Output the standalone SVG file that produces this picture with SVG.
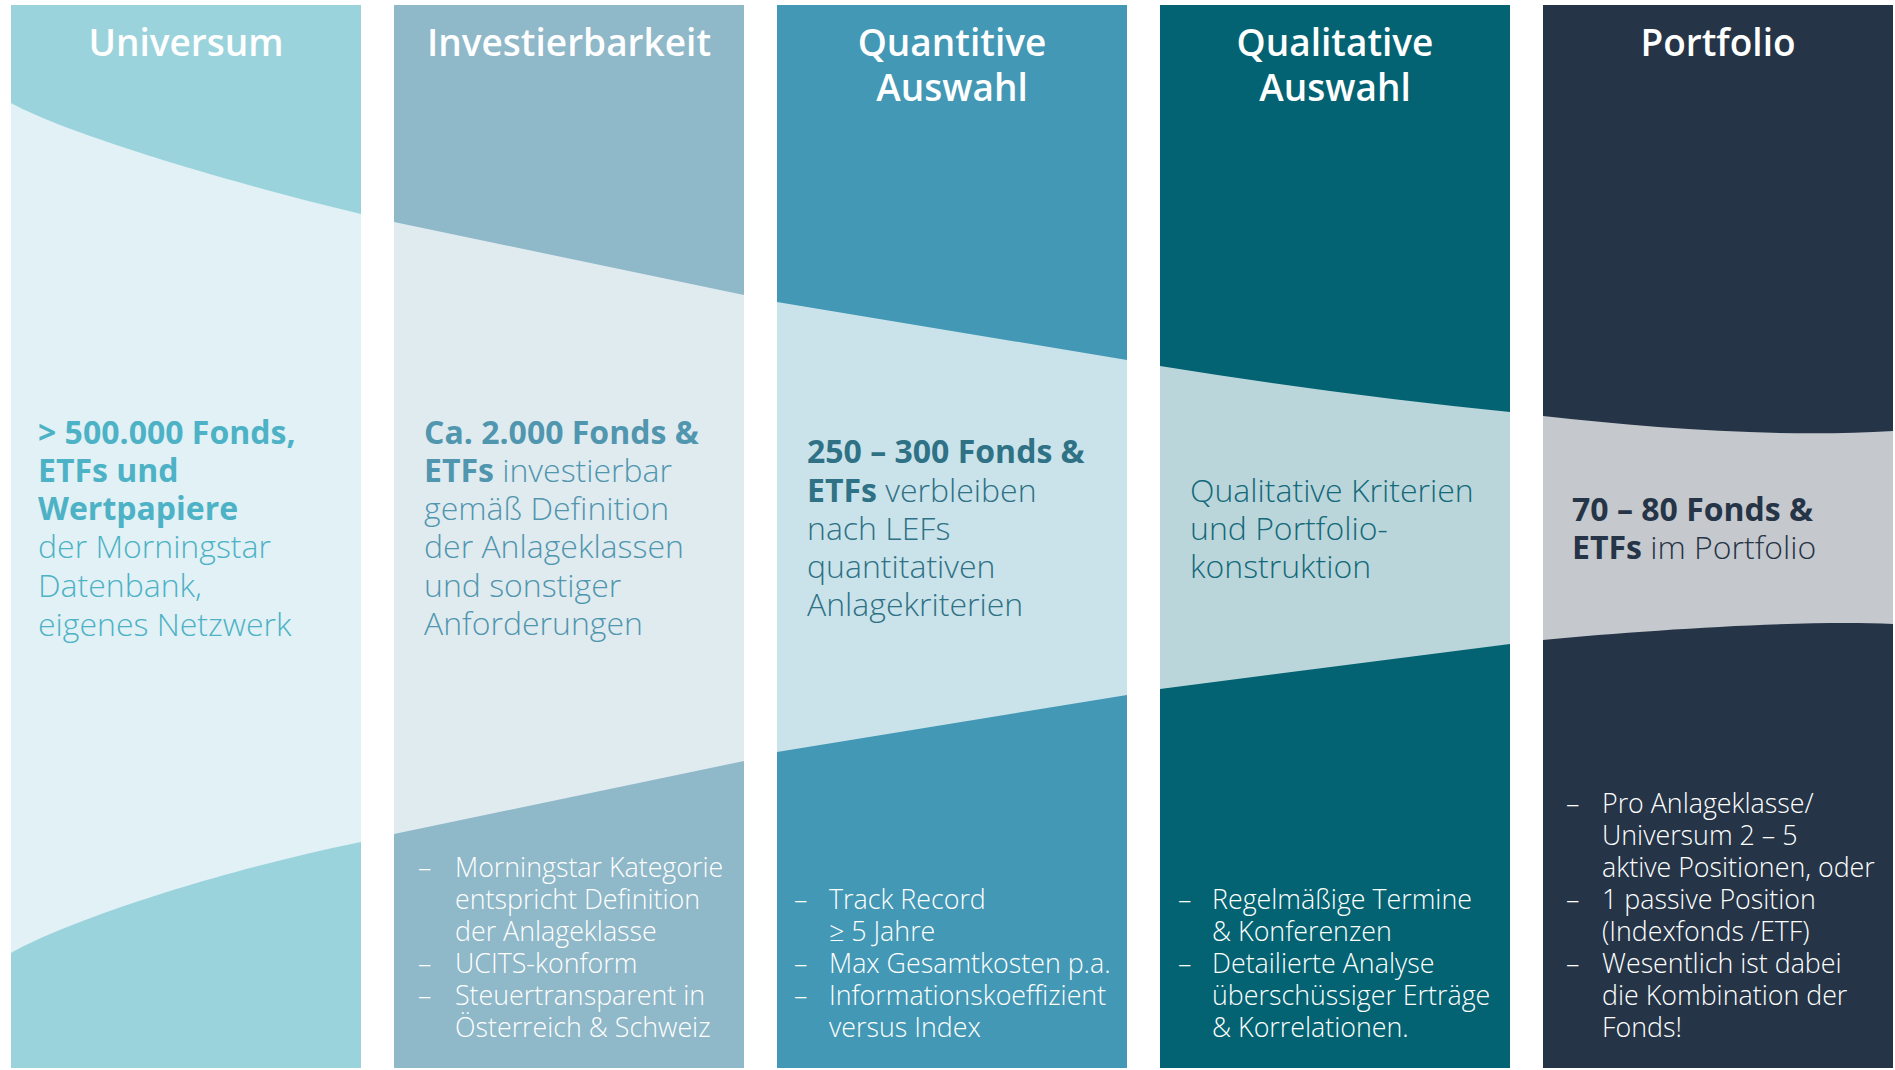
<svg xmlns="http://www.w3.org/2000/svg" width="1895" height="1070" viewBox="0 0 1895 1070">
<style>
.h{font-family:"Open Sans","Noto Sans",sans-serif;font-weight:600;font-size:37px;fill:#ffffff;text-anchor:middle}
.b{font-family:"Open Sans","Noto Sans",sans-serif;font-weight:300;font-size:32px}
.b tspan.s{font-weight:700}
.l{font-family:"Open Sans","Noto Sans",sans-serif;font-weight:300;font-size:26.8px;fill:#ffffff}
</style>
<rect width="1895" height="1070" fill="#ffffff"/>
<g id="col-universum">
<rect x="11" y="5" width="350" height="1063" fill="#9bd3dc"/>
<path d="M11,103 C60,130 200,175 361,214 L361,842 C200,875 60,925 11,953 Z" fill="#e1f1f5"/>
<text class="h" x="186" y="56">Universum</text>
<text class="b" fill="#4db2c5"><tspan class="s" x="38" y="444">&gt; 500.000 Fonds,</tspan><tspan class="s" x="38" y="482">ETFs und</tspan><tspan class="s" x="38" y="520">Wertpapiere</tspan><tspan x="38" y="558">der Morningstar</tspan><tspan x="38" y="597">Datenbank,</tspan><tspan x="38" y="636">eigenes Netzwerk</tspan></text>
</g>
<g id="col-investierbarkeit">
<rect x="394" y="5" width="350" height="1063" fill="#8fb8c9"/>
<path d="M394,222 L744,295 L744,761 L394,834 Z" fill="#e0ebf0"/>
<text class="h" x="569" y="56">Investierbarkeit</text>
<text class="b" fill="#5096ae"><tspan class="s" x="424" y="444">Ca. 2.000 Fonds &amp;</tspan><tspan class="s" x="424" y="482">ETFs</tspan><tspan> investierbar</tspan><tspan x="424" y="520">gemäß Definition</tspan><tspan x="424" y="558">der Anlageklassen</tspan><tspan x="424" y="597">und sonstiger</tspan><tspan x="424" y="635">Anforderungen</tspan></text>
<text class="l"><tspan x="418" y="877">–</tspan><tspan x="455" y="877">Morningstar Kategorie</tspan><tspan x="455" y="909">entspricht Definition</tspan><tspan x="455" y="941">der Anlageklasse</tspan><tspan x="418" y="973">–</tspan><tspan x="455" y="973">UCITS-konform</tspan><tspan x="418" y="1005">–</tspan><tspan x="455" y="1005">Steuertransparent in</tspan><tspan x="455" y="1037">Österreich &amp; Schweiz</tspan></text>
</g>
<g id="col-quantitive">
<rect x="777" y="5" width="350" height="1063" fill="#4398b5"/>
<path d="M777,302 L1127,360 L1127,695 L777,752 Z" fill="#cae3ea"/>
<text class="h" x="952" y="56">Quantitive</text>
<text class="h" x="952" y="101">Auswahl</text>
<text class="b" fill="#2f7185"><tspan class="s" x="807" y="463">250 – 300 Fonds &amp;</tspan><tspan class="s" x="807" y="502">ETFs</tspan><tspan> verbleiben</tspan><tspan x="807" y="540">nach LEFs</tspan><tspan x="807" y="578">quantitativen</tspan><tspan x="807" y="616">Anlagekriterien</tspan></text>
<text class="l"><tspan x="794" y="909">–</tspan><tspan x="829" y="909">Track Record</tspan><tspan x="829" y="941">≥ 5 Jahre</tspan><tspan x="794" y="973">–</tspan><tspan x="829" y="973">Max Gesamtkosten p.a.</tspan><tspan x="794" y="1005">–</tspan><tspan x="829" y="1005">Informationskoeffizient</tspan><tspan x="829" y="1037">versus Index</tspan></text>
</g>
<g id="col-qualitative">
<rect x="1160" y="5" width="350" height="1063" fill="#036372"/>
<path d="M1160,366 Q1340,395 1510,412 L1510,644 L1160,689 Z" fill="#bbd6da"/>
<text class="h" x="1335" y="56">Qualitative</text>
<text class="h" x="1335" y="101">Auswahl</text>
<text class="b" fill="#13697a"><tspan x="1190" y="502">Qualitative Kriterien</tspan><tspan x="1190" y="540">und Portfolio-</tspan><tspan x="1190" y="578">konstruktion</tspan></text>
<text class="l"><tspan x="1178" y="909">–</tspan><tspan x="1212" y="909">Regelmäßige Termine</tspan><tspan x="1212" y="941">&amp; Konferenzen</tspan><tspan x="1178" y="973">–</tspan><tspan x="1212" y="973">Detailierte Analyse</tspan><tspan x="1212" y="1005">überschüssiger Erträge</tspan><tspan x="1212" y="1037">&amp; Korrelationen.</tspan></text>
</g>
<g id="col-portfolio">
<rect x="1543" y="5" width="350" height="1063" fill="#253547"/>
<path d="M1543,416 C1650,428 1780,438 1893,431 L1893,624 C1800,620 1650,630 1543,640 Z" fill="#c5c8cd"/>
<text class="h" x="1718" y="56">Portfolio</text>
<text class="b" fill="#253547"><tspan class="s" x="1572" y="521">70 – 80 Fonds &amp;</tspan><tspan class="s" x="1572" y="559">ETFs</tspan><tspan> im Portfolio</tspan></text>
<text class="l"><tspan x="1566" y="813">–</tspan><tspan x="1602" y="813">Pro Anlageklasse/</tspan><tspan x="1602" y="845">Universum 2 – 5</tspan><tspan x="1602" y="877">aktive Positionen, oder</tspan><tspan x="1566" y="909">–</tspan><tspan x="1602" y="909">1 passive Position</tspan><tspan x="1602" y="941">(Indexfonds /ETF)</tspan><tspan x="1566" y="973">–</tspan><tspan x="1602" y="973">Wesentlich ist dabei</tspan><tspan x="1602" y="1005">die Kombination der</tspan><tspan x="1602" y="1037">Fonds!</tspan></text>
</g>
<g id="connectors"></g>
</svg>
